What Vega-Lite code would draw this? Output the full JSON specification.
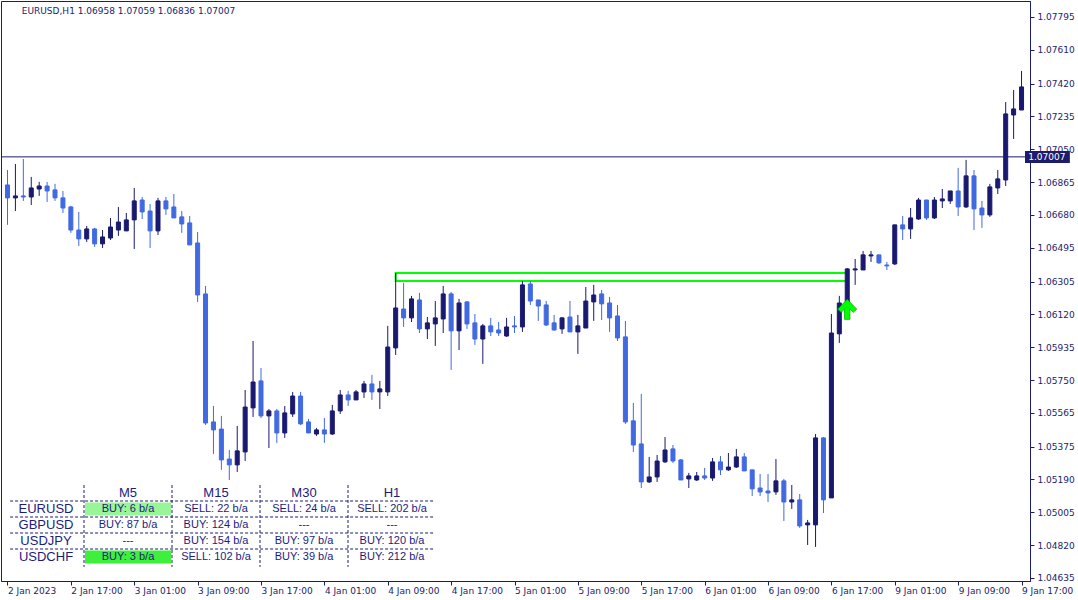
{
  "$schema": "https://vega.github.io/schema/vega-lite/v6.json",
  "width": 1029,
  "height": 580,
  "autosize": {"type": "none"},
  "padding": {"left": 1, "top": 1, "right": 48, "bottom": 19},
  "background": "white",
  "config": {
    "view": {"stroke": "#1c1c6c", "strokeWidth": 1},
    "axis": {"grid": false, "domainColor": "#1c1c6c", "tickColor": "#1c1c6c", "labelColor": "#1c1c6c", "labelFont": "DejaVu Sans", "labelFontSize": 9, "tickSize": 4, "labelOverlap": false, "labelFlush": false}
  },
  "datasets": {
    "candles": [
      {"i":0,"o":1.06849,"h":1.06933,"l":1.06624,"c":1.06776},
      {"i":1,"o":1.06776,"h":1.06967,"l":1.06702,"c":1.06787},
      {"i":2,"o":1.06787,"h":1.06995,"l":1.06759,"c":1.06781},
      {"i":3,"o":1.06781,"h":1.06894,"l":1.06736,"c":1.06832},
      {"i":4,"o":1.06826,"h":1.06866,"l":1.06787,"c":1.06843},
      {"i":5,"o":1.06843,"h":1.06866,"l":1.06753,"c":1.06815},
      {"i":6,"o":1.06821,"h":1.06855,"l":1.06759,"c":1.06776},
      {"i":7,"o":1.06776,"h":1.06815,"l":1.06691,"c":1.06719},
      {"i":8,"o":1.06725,"h":1.06731,"l":1.06579,"c":1.06595},
      {"i":9,"o":1.06595,"h":1.06697,"l":1.06505,"c":1.06545},
      {"i":10,"o":1.06545,"h":1.06618,"l":1.06528,"c":1.06601},
      {"i":11,"o":1.06601,"h":1.06607,"l":1.06500,"c":1.06517},
      {"i":12,"o":1.06517,"h":1.06595,"l":1.06494,"c":1.06556},
      {"i":13,"o":1.06550,"h":1.06663,"l":1.06539,"c":1.06612},
      {"i":14,"o":1.06595,"h":1.06725,"l":1.06562,"c":1.06640},
      {"i":15,"o":1.06590,"h":1.06691,"l":1.06590,"c":1.06652},
      {"i":16,"o":1.06652,"h":1.06832,"l":1.06488,"c":1.06759},
      {"i":17,"o":1.06764,"h":1.06781,"l":1.06657,"c":1.06697},
      {"i":18,"o":1.06702,"h":1.06742,"l":1.06494,"c":1.06590},
      {"i":19,"o":1.06590,"h":1.06776,"l":1.06567,"c":1.06759},
      {"i":20,"o":1.06759,"h":1.06781,"l":1.06680,"c":1.06714},
      {"i":21,"o":1.06725,"h":1.06798,"l":1.06663,"c":1.06663},
      {"i":22,"o":1.06669,"h":1.06702,"l":1.06579,"c":1.06629},
      {"i":23,"o":1.06635,"h":1.06674,"l":1.06511,"c":1.06511},
      {"i":24,"o":1.06522,"h":1.06584,"l":1.06190,"c":1.06229},
      {"i":25,"o":1.06235,"h":1.06280,"l":1.05497,"c":1.05508},
      {"i":26,"o":1.05514,"h":1.05604,"l":1.05334,"c":1.05469},
      {"i":27,"o":1.05474,"h":1.05548,"l":1.05244,"c":1.05300},
      {"i":28,"o":1.05305,"h":1.05356,"l":1.05187,"c":1.05272},
      {"i":29,"o":1.05272,"h":1.05491,"l":1.05232,"c":1.05351},
      {"i":30,"o":1.05345,"h":1.05694,"l":1.05294,"c":1.05598},
      {"i":31,"o":1.05593,"h":1.05970,"l":1.05542,"c":1.05739},
      {"i":32,"o":1.05745,"h":1.05818,"l":1.05536,"c":1.05548},
      {"i":33,"o":1.05548,"h":1.05587,"l":1.05367,"c":1.05576},
      {"i":34,"o":1.05576,"h":1.05587,"l":1.05396,"c":1.05452},
      {"i":35,"o":1.05452,"h":1.05604,"l":1.05424,"c":1.05565},
      {"i":36,"o":1.05559,"h":1.05683,"l":1.05542,"c":1.05660},
      {"i":37,"o":1.05660,"h":1.05683,"l":1.05497,"c":1.05503},
      {"i":38,"o":1.05514,"h":1.05531,"l":1.05452,"c":1.05452},
      {"i":39,"o":1.05446,"h":1.05480,"l":1.05435,"c":1.05469},
      {"i":40,"o":1.05469,"h":1.05536,"l":1.05396,"c":1.05446},
      {"i":41,"o":1.05446,"h":1.05610,"l":1.05441,"c":1.05576},
      {"i":42,"o":1.05576,"h":1.05694,"l":1.05559,"c":1.05666},
      {"i":43,"o":1.05666,"h":1.05689,"l":1.05604,"c":1.05638},
      {"i":44,"o":1.05638,"h":1.05694,"l":1.05638,"c":1.05683},
      {"i":45,"o":1.05683,"h":1.05745,"l":1.05649,"c":1.05728},
      {"i":46,"o":1.05728,"h":1.05779,"l":1.05638,"c":1.05683},
      {"i":47,"o":1.05683,"h":1.05745,"l":1.05587,"c":1.05700},
      {"i":48,"o":1.05683,"h":1.06055,"l":1.05660,"c":1.05936},
      {"i":49,"o":1.05931,"h":1.06353,"l":1.05891,"c":1.06156},
      {"i":50,"o":1.06150,"h":1.06297,"l":1.06049,"c":1.06100},
      {"i":51,"o":1.06100,"h":1.06224,"l":1.06077,"c":1.06207},
      {"i":52,"o":1.06201,"h":1.06241,"l":1.06015,"c":1.06038},
      {"i":53,"o":1.06038,"h":1.06105,"l":1.05981,"c":1.06072},
      {"i":54,"o":1.06066,"h":1.06195,"l":1.05942,"c":1.06100},
      {"i":55,"o":1.06094,"h":1.06280,"l":1.06015,"c":1.06235},
      {"i":56,"o":1.06235,"h":1.06246,"l":1.05807,"c":1.06027},
      {"i":57,"o":1.06027,"h":1.06207,"l":1.05919,"c":1.06184},
      {"i":58,"o":1.06190,"h":1.06195,"l":1.06038,"c":1.06066},
      {"i":59,"o":1.06072,"h":1.06122,"l":1.05948,"c":1.05981},
      {"i":60,"o":1.05981,"h":1.06066,"l":1.05841,"c":1.06055},
      {"i":61,"o":1.06055,"h":1.06100,"l":1.05998,"c":1.06021},
      {"i":62,"o":1.06032,"h":1.06077,"l":1.05998,"c":1.06015},
      {"i":63,"o":1.05998,"h":1.06100,"l":1.05993,"c":1.06049},
      {"i":64,"o":1.06055,"h":1.06111,"l":1.06015,"c":1.06049},
      {"i":65,"o":1.06049,"h":1.06308,"l":1.06021,"c":1.06286},
      {"i":66,"o":1.06291,"h":1.06308,"l":1.06173,"c":1.06195},
      {"i":67,"o":1.06201,"h":1.06201,"l":1.06083,"c":1.06167},
      {"i":68,"o":1.06173,"h":1.06195,"l":1.06055,"c":1.06060},
      {"i":69,"o":1.06072,"h":1.06117,"l":1.06027,"c":1.06032},
      {"i":70,"o":1.06038,"h":1.06105,"l":1.06010,"c":1.06100},
      {"i":71,"o":1.06105,"h":1.06195,"l":1.06021,"c":1.06021},
      {"i":72,"o":1.06021,"h":1.06117,"l":1.05897,"c":1.06055},
      {"i":73,"o":1.06043,"h":1.06274,"l":1.06043,"c":1.06195},
      {"i":74,"o":1.06190,"h":1.06286,"l":1.06083,"c":1.06229},
      {"i":75,"o":1.06235,"h":1.06257,"l":1.06088,"c":1.06179},
      {"i":76,"o":1.06184,"h":1.06218,"l":1.06021,"c":1.06100},
      {"i":77,"o":1.06111,"h":1.06173,"l":1.05970,"c":1.05987},
      {"i":78,"o":1.05993,"h":1.06083,"l":1.05503,"c":1.05514},
      {"i":79,"o":1.05520,"h":1.05621,"l":1.05345,"c":1.05384},
      {"i":80,"o":1.05390,"h":1.05672,"l":1.05142,"c":1.05176},
      {"i":81,"o":1.05176,"h":1.05317,"l":1.05170,"c":1.05204},
      {"i":82,"o":1.05204,"h":1.05328,"l":1.05176,"c":1.05294},
      {"i":83,"o":1.05289,"h":1.05429,"l":1.05283,"c":1.05356},
      {"i":84,"o":1.05362,"h":1.05384,"l":1.05283,"c":1.05294},
      {"i":85,"o":1.05300,"h":1.05305,"l":1.05187,"c":1.05187},
      {"i":86,"o":1.05193,"h":1.05227,"l":1.05142,"c":1.05210},
      {"i":87,"o":1.05187,"h":1.05232,"l":1.05182,"c":1.05210},
      {"i":88,"o":1.05210,"h":1.05255,"l":1.05187,"c":1.05198},
      {"i":89,"o":1.05198,"h":1.05311,"l":1.05182,"c":1.05289},
      {"i":90,"o":1.05289,"h":1.05322,"l":1.05215,"c":1.05244},
      {"i":91,"o":1.05244,"h":1.05339,"l":1.05238,"c":1.05260},
      {"i":92,"o":1.05260,"h":1.05362,"l":1.05255,"c":1.05317},
      {"i":93,"o":1.05317,"h":1.05339,"l":1.05238,"c":1.05238},
      {"i":94,"o":1.05244,"h":1.05244,"l":1.05097,"c":1.05137},
      {"i":95,"o":1.05142,"h":1.05221,"l":1.05097,"c":1.05120},
      {"i":96,"o":1.05125,"h":1.05221,"l":1.05063,"c":1.05114},
      {"i":97,"o":1.05120,"h":1.05305,"l":1.05103,"c":1.05182},
      {"i":98,"o":1.05182,"h":1.05193,"l":1.04956,"c":1.05063},
      {"i":99,"o":1.05063,"h":1.05159,"l":1.05024,"c":1.05075},
      {"i":100,"o":1.05075,"h":1.05108,"l":1.04917,"c":1.04928},
      {"i":101,"o":1.04934,"h":1.04962,"l":1.04821,"c":1.04945},
      {"i":102,"o":1.04934,"h":1.05446,"l":1.04810,"c":1.05424},
      {"i":103,"o":1.05424,"h":1.05429,"l":1.05001,"c":1.05075},
      {"i":104,"o":1.05086,"h":1.06122,"l":1.05086,"c":1.06015},
      {"i":105,"o":1.06010,"h":1.06224,"l":1.05959,"c":1.06184},
      {"i":106,"o":1.06184,"h":1.06381,"l":1.06184,"c":1.06376},
      {"i":107,"o":1.06370,"h":1.06432,"l":1.06286,"c":1.06376},
      {"i":108,"o":1.06370,"h":1.06477,"l":1.06370,"c":1.06455},
      {"i":109,"o":1.06449,"h":1.06477,"l":1.06415,"c":1.06455},
      {"i":110,"o":1.06455,"h":1.06455,"l":1.06404,"c":1.06410},
      {"i":111,"o":1.06398,"h":1.06415,"l":1.06370,"c":1.06393},
      {"i":112,"o":1.06404,"h":1.06624,"l":1.06398,"c":1.06624},
      {"i":113,"o":1.06624,"h":1.06674,"l":1.06539,"c":1.06601},
      {"i":114,"o":1.06601,"h":1.06719,"l":1.06545,"c":1.06663},
      {"i":115,"o":1.06657,"h":1.06776,"l":1.06652,"c":1.06764},
      {"i":116,"o":1.06764,"h":1.06764,"l":1.06652,"c":1.06663},
      {"i":117,"o":1.06663,"h":1.06781,"l":1.06657,"c":1.06764},
      {"i":118,"o":1.06759,"h":1.06826,"l":1.06719,"c":1.06770},
      {"i":119,"o":1.06759,"h":1.06815,"l":1.06742,"c":1.06815},
      {"i":120,"o":1.06815,"h":1.06945,"l":1.06674,"c":1.06725},
      {"i":121,"o":1.06725,"h":1.06990,"l":1.06719,"c":1.06900},
      {"i":122,"o":1.06900,"h":1.06933,"l":1.06595,"c":1.06714},
      {"i":123,"o":1.06719,"h":1.06759,"l":1.06607,"c":1.06680},
      {"i":124,"o":1.06680,"h":1.06855,"l":1.06669,"c":1.06838},
      {"i":125,"o":1.06832,"h":1.06933,"l":1.06798,"c":1.06883},
      {"i":126,"o":1.06877,"h":1.07316,"l":1.06843,"c":1.07249},
      {"i":127,"o":1.07243,"h":1.07384,"l":1.07108,"c":1.07277},
      {"i":128,"o":1.07271,"h":1.07491,"l":1.07271,"c":1.07401}
    ],
    "levels": [{"name": "bid", "price": 1.07007, "label": "1.07007"}],
    "zones": [{"from": 49, "to": 106, "top": 1.06353, "bottom": 1.06308}],
    "signals": [{"i": 106, "price": 1.06148, "type": "buy"}],
    "table": [
      {"row": 0, "col": 1, "text": "M5", "kind": "header"},
      {"row": 0, "col": 2, "text": "M15", "kind": "header"},
      {"row": 0, "col": 3, "text": "M30", "kind": "header"},
      {"row": 0, "col": 4, "text": "H1", "kind": "header"},
      {"row": 1, "col": 0, "text": "EURUSD", "kind": "name"},
      {"row": 2, "col": 0, "text": "GBPUSD", "kind": "name"},
      {"row": 3, "col": 0, "text": "USDJPY", "kind": "name"},
      {"row": 4, "col": 0, "text": "USDCHF", "kind": "name"},
      {"row": 1, "col": 1, "text": "BUY: 6 b/a", "kind": "cell", "flag": "recent"},
      {"row": 1, "col": 2, "text": "SELL: 22 b/a", "kind": "cell"},
      {"row": 1, "col": 3, "text": "SELL: 24 b/a", "kind": "cell"},
      {"row": 1, "col": 4, "text": "SELL: 202 b/a", "kind": "cell"},
      {"row": 2, "col": 1, "text": "BUY: 87 b/a", "kind": "cell"},
      {"row": 2, "col": 2, "text": "BUY: 124 b/a", "kind": "cell"},
      {"row": 2, "col": 3, "text": "---", "kind": "cell"},
      {"row": 2, "col": 4, "text": "---", "kind": "cell"},
      {"row": 3, "col": 1, "text": "---", "kind": "cell"},
      {"row": 3, "col": 2, "text": "BUY: 154 b/a", "kind": "cell"},
      {"row": 3, "col": 3, "text": "BUY: 97 b/a", "kind": "cell"},
      {"row": 3, "col": 4, "text": "BUY: 120 b/a", "kind": "cell"},
      {"row": 4, "col": 1, "text": "BUY: 3 b/a", "kind": "cell", "flag": "now"},
      {"row": 4, "col": 2, "text": "SELL: 102 b/a", "kind": "cell"},
      {"row": 4, "col": 3, "text": "BUY: 39 b/a", "kind": "cell"},
      {"row": 4, "col": 4, "text": "BUY: 212 b/a", "kind": "cell"}
    ],
    "rowSeps": [{"pos": 0.5}, {"pos": 1.5}, {"pos": 2.5}, {"pos": 3.5}],
    "colSeps": [{"pos": 0.5}, {"pos": 1.5}, {"pos": 2.5}, {"pos": 3.5}]
  },
  "layer": [
    {
      "layer": [
        {
          "data": {"name": "levels"},
          "mark": {"type": "rule", "color": "#1c1c6c", "strokeWidth": 1},
          "encoding": {
            "y": {"field": "price", "type": "quantitative", "scale": {"domain": [1.04618, 1.07885], "nice": false, "zero": false}}
          }
        },
        {
          "data": {"name": "zones"},
          "mark": {"type": "rect", "fillOpacity": 0, "stroke": "#00FF00", "strokeWidth": 2},
          "encoding": {
            "x": {"field": "from", "type": "quantitative", "scale": {"domain": [-0.1875, 128.4375], "nice": false, "zero": false}},
            "x2": {"field": "to"},
            "y": {"field": "top", "type": "quantitative", "scale": {"domain": [1.04618, 1.07885], "nice": false, "zero": false}},
            "y2": {"field": "bottom"}
          }
        },
        {
          "data": {"name": "candles"},
          "mark": {"type": "rule", "strokeWidth": 1},
          "encoding": {
            "x": {"field": "i", "type": "quantitative", "scale": {"domain": [-0.1875, 128.4375], "nice": false, "zero": false},
              "axis": {"title": null, "values": [0,8,16,24,32,40,48,56,64,72,80,88,96,104,112,120,128], "tickCount": 30, "labelExpr": "['2 Jan 2023','2 Jan 17:00','3 Jan 01:00','3 Jan 09:00','3 Jan 17:00','4 Jan 01:00','4 Jan 09:00','4 Jan 17:00','5 Jan 01:00','5 Jan 09:00','5 Jan 17:00','6 Jan 01:00','6 Jan 09:00','6 Jan 17:00','9 Jan 01:00','9 Jan 09:00','9 Jan 17:00'][round(datum.value / 8)]", "labelAlign": "left", "labelAngle": 0, "labelBaseline": "top", "labelPadding": 1, "labelOverlap": false, "labelFlush": false, "labelBound": false}},
            "y": {"field": "l", "type": "quantitative", "scale": {"domain": [1.04618, 1.07885], "nice": false, "zero": false},
              "axis": {"title": null, "orient": "right", "values": [1.04635,1.0482,1.05005,1.0519,1.05375,1.05565,1.0575,1.05935,1.0612,1.06305,1.06495,1.0668,1.06865,1.0705,1.07235,1.0742,1.0761,1.07795], "tickCount": 30, "format": ".5f", "labelPadding": 3, "labelOverlap": false, "labelFlush": false, "labelBound": false}},
            "y2": {"field": "h"},
            "color": {"condition": {"test": "datum.c >= datum.o", "value": "#191970"}, "value": "#4169E1"}
          }
        },
        {
          "data": {"name": "candles"},
          "mark": {"type": "bar", "width": 4, "strokeWidth": 1},
          "encoding": {
            "x": {"field": "i", "type": "quantitative", "scale": {"domain": [-0.1875, 128.4375], "nice": false, "zero": false}},
            "y": {"field": "o", "type": "quantitative", "scale": {"domain": [1.04618, 1.07885], "nice": false, "zero": false}},
            "y2": {"field": "c"},
            "fill": {"condition": {"test": "datum.c >= datum.o", "value": "#191970"}, "value": "#4169E1"},
            "stroke": {"condition": {"test": "datum.c >= datum.o", "value": "#191970"}, "value": "#4169E1"}
          }
        },
        {
          "data": {"name": "signals"},
          "mark": {"type": "point", "shape": "M0,-1L0.95,-0.02L0.6,0.3L0.27,-0.05L0.27,1L-0.27,1L-0.27,-0.05L-0.6,0.3L-0.95,-0.02Z", "size": 400, "filled": true, "fill": "#00FF00", "stroke": "#00B400", "strokeWidth": 0.8, "opacity": 1},
          "encoding": {
            "x": {"field": "i", "type": "quantitative", "scale": {"domain": [-0.1875, 128.4375], "nice": false, "zero": false}},
            "y": {"field": "price", "type": "quantitative", "scale": {"domain": [1.04618, 1.07885], "nice": false, "zero": false}}
          }
        },
        {
          "data": {"name": "levels"},
          "mark": {"type": "rect", "fill": "#1c1c6c"},
          "encoding": {
            "x": {"datum": 128.44, "type": "quantitative", "scale": {"domain": [-0.1875, 128.4375], "nice": false, "zero": false}},
            "x2": {"datum": 134.1},
            "y": {"datum": 1.0704, "type": "quantitative", "scale": {"domain": [1.04618, 1.07885], "nice": false, "zero": false}},
            "y2": {"datum": 1.06973}
          }
        },
        {
          "data": {"name": "levels"},
          "mark": {"type": "text", "align": "left", "baseline": "middle", "font": "DejaVu Sans", "fontSize": 9, "fill": "white"},
          "encoding": {
            "x": {"datum": 128.85, "type": "quantitative", "scale": {"domain": [-0.1875, 128.4375], "nice": false, "zero": false}},
            "y": {"field": "price", "type": "quantitative", "scale": {"domain": [1.04618, 1.07885], "nice": false, "zero": false}},
            "text": {"field": "label"}
          }
        },
        {
          "data": {"values": [{"title": "EURUSD,H1  1.06958 1.07059 1.06836 1.07007"}]},
          "mark": {"type": "text", "align": "left", "baseline": "middle", "font": "DejaVu Sans", "fontSize": 9, "fill": "#1c1c6c"},
          "encoding": {
            "x": {"datum": 1.8, "type": "quantitative", "scale": {"domain": [-0.1875, 128.4375], "nice": false, "zero": false}},
            "y": {"datum": 1.07829, "type": "quantitative", "scale": {"domain": [1.04618, 1.07885], "nice": false, "zero": false}},
            "text": {"field": "title"}
          }
        }
      ]
    },
    {
      "layer": [
        {
          "data": {"name": "table"},
          "transform": [{"filter": "datum.flag != null"}],
          "mark": {"type": "point", "shape": "M-1,-0.151L1,-0.151L1,0.151L-1,0.151Z", "size": 7396, "filled": true, "opacity": 1, "strokeWidth": 0},
          "encoding": {
            "x": {"field": "col", "type": "quantitative", "scale": {"domain": [-0.4432, 11.25], "nice": false, "zero": false}, "axis": null},
            "y": {"field": "row", "type": "quantitative", "scale": {"domain": [-30.75, 5.5], "reverse": true, "nice": false, "zero": false}, "axis": null},
            "color": {"field": "flag", "type": "nominal", "scale": {"domain": ["recent", "now"], "range": ["#98F598", "#3CF03C"]}, "legend": null}
          }
        },
        {
          "data": {"name": "rowSeps"},
          "mark": {"type": "rule", "color": "#1c1c6c", "strokeWidth": 1, "strokeDash": [3, 2]},
          "encoding": {
            "x": {"datum": -0.34, "type": "quantitative", "scale": {"domain": [-0.4432, 11.25], "nice": false, "zero": false}, "axis": null},
            "x2": {"datum": 4.47},
            "y": {"field": "pos", "type": "quantitative", "scale": {"domain": [-30.75, 5.5], "reverse": true, "nice": false, "zero": false}, "axis": null}
          }
        },
        {
          "data": {"name": "colSeps"},
          "mark": {"type": "rule", "color": "#1c1c6c", "strokeWidth": 1, "strokeDash": [3, 2]},
          "encoding": {
            "x": {"field": "pos", "type": "quantitative", "scale": {"domain": [-0.4432, 11.25], "nice": false, "zero": false}, "axis": null},
            "y": {"datum": -0.5, "type": "quantitative", "scale": {"domain": [-30.75, 5.5], "reverse": true, "nice": false, "zero": false}, "axis": null},
            "y2": {"datum": 4.62}
          }
        },
        {
          "data": {"name": "table"},
          "transform": [{"filter": "datum.kind == 'header'"}],
          "mark": {"type": "text", "align": "center", "baseline": "middle", "font": "Liberation Sans", "fontSize": 13, "fill": "#1c1c7c"},
          "encoding": {
            "x": {"field": "col", "type": "quantitative", "scale": {"domain": [-0.4432, 11.25], "nice": false, "zero": false}, "axis": null},
            "y": {"field": "row", "type": "quantitative", "scale": {"domain": [-30.75, 5.5], "reverse": true, "nice": false, "zero": false}, "axis": null},
            "text": {"field": "text"}
          }
        },
        {
          "data": {"name": "table"},
          "transform": [{"filter": "datum.kind == 'name'"}],
          "mark": {"type": "text", "align": "center", "baseline": "middle", "font": "Liberation Sans", "fontSize": 13, "fill": "#1c1c7c", "dx": 6},
          "encoding": {
            "x": {"field": "col", "type": "quantitative", "scale": {"domain": [-0.4432, 11.25], "nice": false, "zero": false}, "axis": null},
            "y": {"field": "row", "type": "quantitative", "scale": {"domain": [-30.75, 5.5], "reverse": true, "nice": false, "zero": false}, "axis": null},
            "text": {"field": "text"}
          }
        },
        {
          "data": {"name": "table"},
          "transform": [{"filter": "datum.kind == 'cell'"}],
          "mark": {"type": "text", "align": "center", "baseline": "middle", "font": "Liberation Sans", "fontSize": 11, "fill": "#1c1c7c"},
          "encoding": {
            "x": {"field": "col", "type": "quantitative", "scale": {"domain": [-0.4432, 11.25], "nice": false, "zero": false}, "axis": null},
            "y": {"field": "row", "type": "quantitative", "scale": {"domain": [-30.75, 5.5], "reverse": true, "nice": false, "zero": false}, "axis": null},
            "text": {"field": "text"}
          }
        }
      ]
    }
  ],
  "resolve": {"scale": {"x": "independent", "y": "independent", "color": "independent"}}
}
